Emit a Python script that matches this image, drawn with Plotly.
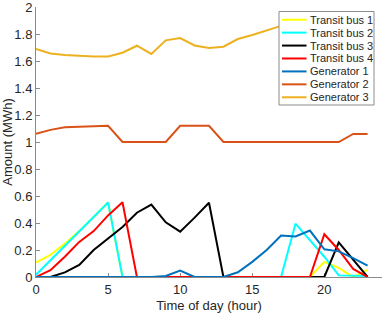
import plotly.graph_objects as go

hours = list(range(24))

transit_bus_1 = [0.107, 0.163, 0.247, 0.34, 0.445, 0.552, 0, 0, 0, 0, 0, 0,
                 0, 0, 0, 0, 0, 0, 0, 0, 0.112, 0.068, 0.0, 0.053]
transit_bus_2 = [0.017, 0.124, 0.231, 0.338, 0.445, 0.552, 0, 0, 0, 0, 0, 0,
                 0, 0, 0, 0, 0, 0, 0.395, 0.27, 0.15, 0.012, 0.012, 0.008]
transit_bus_3 = [0, 0, 0.034, 0.09, 0.2, 0.285, 0.37, 0.476, 0.537, 0.405, 0.336, 0.44,
                 0.55, 0, 0, 0, 0, 0, 0, 0, 0, 0.256, 0.127, 0]
transit_bus_4 = [0, 0.05, 0.15, 0.26, 0.34, 0.456, 0.554, 0, 0, 0, 0, 0,
                 0, 0, 0, 0, 0, 0, 0, 0, 0.317, 0.2, 0.06, 0]
generator_1 = [0, 0, 0, 0, 0, 0, 0, 0, 0, 0.008, 0.048, 0,
               0, 0, 0.035, 0.112, 0.2, 0.307, 0.3, 0.344, 0.205, 0.19, 0.14, 0.085]
generator_2 = [1.06, 1.09, 1.11, 1.115, 1.12, 1.12, 1.0, 1.0, 1.0, 1.0, 1.12, 1.12,
               1.12, 1.0, 1.0, 1.0, 1.0, 1.0, 1.0, 1.0, 1.0, 1.0, 1.06, 1.06]
generator_3 = [1.69, 1.656, 1.644, 1.638, 1.634, 1.634, 1.661, 1.713, 1.652, 1.753, 1.77, 1.715,
               1.696, 1.706, 1.763, 1.793, 1.824, 1.86, 1.88, 1.9, 1.9, 1.88, 1.87, 1.86]

series_names = ["Transit bus 1", "Transit bus 2", "Transit bus 3", "Transit bus 4",
                "Generator 1", "Generator 2", "Generator 3"]
series_values = [transit_bus_1, transit_bus_2, transit_bus_3, transit_bus_4,
                 generator_1, generator_2, generator_3]
series_colors = ["#FFFF00", "#00FFFF", "#000000", "#FF0000",
                 "#0072BD", "#D95319", "#EDB120"]

x_ticks = [0, 5, 10, 15, 20]
y_ticks = [0, 0.2, 0.4, 0.6, 0.8, 1, 1.2, 1.4, 1.6, 1.8, 2]

fig = go.Figure()
for name, vals, col in zip(series_names, series_values, series_colors):
    fig.add_trace(go.Scatter(x=hours, y=vals, mode="lines", name=name,
                             line=dict(color=col, width=2), showlegend=False))

FONT = "Liberation Sans, Arial, sans-serif"
TXT = "#262626"
AX = "#8a8a8a"

# Manual legend (compact, MATLAB-like) in paper coordinates
W, H = 382, 313
ml, mr, mt, mb = 36, 0, 7, 36
pw, ph = W - ml - mr, H - mt - mb

def px(xp):
    return (xp - ml) / pw

def py(yp):
    return (H - mb - yp) / ph

shapes = [dict(type="rect", xref="paper", yref="paper",
               x0=px(279), x1=px(374), y0=py(105), y1=py(11.5),
               fillcolor="white", line=dict(color="#8c8c8c", width=1), layer="above")]
annotations = []
for i, (name, col) in enumerate(zip(series_names, series_colors)):
    yc = 19.7 + i * 12.93
    shapes.append(dict(type="line", xref="paper", yref="paper",
                       x0=px(282), x1=px(306.5), y0=py(yc), y1=py(yc),
                       line=dict(color=col, width=2), layer="above"))
    annotations.append(dict(xref="paper", yref="paper", x=px(308), y=py(yc),
                            text=name, showarrow=False, xanchor="left", yanchor="middle",
                            font=dict(family=FONT, size=11, color=TXT)))

fig.update_layout(
    width=W, height=H,
    margin=dict(l=ml, r=mr, t=mt, b=mb, pad=0),
    paper_bgcolor="white", plot_bgcolor="white",
    font=dict(family=FONT, size=13, color=TXT),
    shapes=shapes, annotations=annotations,
    hovermode=False,
    xaxis=dict(range=[0, 24], tickvals=x_ticks, ticks="inside", ticklen=4,
               tickcolor=AX, showline=True, linecolor=AX, linewidth=1,
               showgrid=False, zeroline=False, layer="below traces",
               automargin=False, ticklabeloverflow="allow",
               title=dict(text="Time of day (hour)", standoff=5,
                          font=dict(size=13, color=TXT)),
               tickfont=dict(size=13, color=TXT)),
    yaxis=dict(range=[0, 2], tickvals=y_ticks, ticks="inside", ticklen=4,
               tickcolor=AX, showline=True, linecolor=AX, linewidth=1,
               showgrid=False, zeroline=False, layer="below traces",
               automargin=False, ticklabeloverflow="allow",
               title=dict(text="Amount (MWh)", standoff=4,
                          font=dict(size=13, color=TXT)),
               tickfont=dict(size=13, color=TXT)),
)

fig.write_html("out.html",
               config={"displayModeBar": False, "staticPlot": True},
               post_script="document.body.style.margin='0';document.body.style.padding='0';")
